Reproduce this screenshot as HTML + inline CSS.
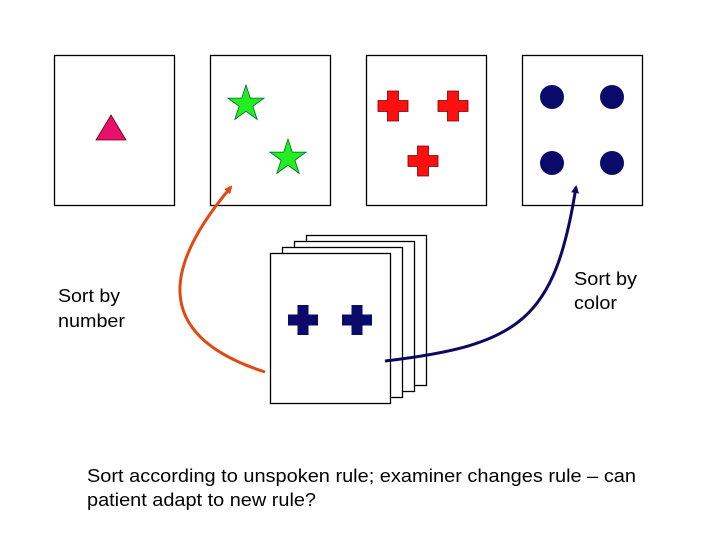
<!DOCTYPE html>
<html><head><style>body{margin:0;background:#fff;}svg{display:block}</style></head><body>
<svg width="720" height="540" xmlns="http://www.w3.org/2000/svg" font-family="Liberation Sans, sans-serif">
<defs>
<marker id="ao" markerWidth="8" markerHeight="8" refX="6" refY="4" orient="auto" markerUnits="userSpaceOnUse"><path d="M0,0 L8,4 L0,8 z" fill="#e04a10"/></marker>
<marker id="ab" markerWidth="8" markerHeight="8" refX="6" refY="4" orient="auto" markerUnits="userSpaceOnUse"><path d="M0,0 L8,4 L0,8 z" fill="#0a0a60"/></marker>
<g id="cross"><path d="M-5.5,-15 H5.5 V-5.5 H15 V5.5 H5.5 V15 H-5.5 V5.5 H-15 V-5.5 H-5.5 Z"/></g>
</defs>
<g fill="#fff" stroke="#000" stroke-width="1.3">
<rect x="54.5" y="55.5" width="120" height="150"/>
<rect x="210.5" y="55.5" width="120" height="150"/>
<rect x="366.5" y="55.5" width="120" height="150"/>
<rect x="522.5" y="55.5" width="120" height="150"/>
<rect x="306.5" y="235.5" width="120" height="150"/>
<rect x="294.5" y="241.5" width="120" height="150"/>
<rect x="282.5" y="247.5" width="120" height="150"/>
<rect x="270.5" y="253.5" width="120" height="150"/>
</g>
<polygon points="111,115 126,140 96,140" fill="#e8106a" stroke="#600" stroke-width="0.8"/>
<g fill="#22ee22" stroke="#063" stroke-width="0.8">
<polygon transform="translate(246,104)" points="0,-19 4.3,-5.9 18.1,-5.9 6.9,2.3 11.2,15.4 0,7.3 -11.2,15.4 -6.9,2.3 -18.1,-5.9 -4.3,-5.9"/>
<polygon transform="translate(288,158)" points="0,-19 4.3,-5.9 18.1,-5.9 6.9,2.3 11.2,15.4 0,7.3 -11.2,15.4 -6.9,2.3 -18.1,-5.9 -4.3,-5.9"/>
</g>
<g fill="#ff1010" stroke="#700" stroke-width="0.8">
<use href="#cross" x="393" y="106"/><use href="#cross" x="453" y="106"/><use href="#cross" x="423" y="161"/>
</g>
<g fill="#0a0a6a">
<circle cx="552" cy="97" r="12"/><circle cx="612" cy="97" r="12"/><circle cx="552" cy="163" r="12"/><circle cx="612" cy="163" r="12"/>
<use href="#cross" x="303" y="320"/><use href="#cross" x="357" y="320"/>
</g>
<path d="M265,372 C150,335 165,265 231,187" fill="none" stroke="#e04a10" stroke-width="3" marker-end="url(#ao)"/>
<path d="M385,361 C520,345 555,320 576,187" fill="none" stroke="#0a0a60" stroke-width="3" marker-end="url(#ab)"/>
<g font-size="18" fill="#000">
<text x="58" y="302" textLength="62" lengthAdjust="spacingAndGlyphs">Sort by</text>
<text x="58" y="327" textLength="67" lengthAdjust="spacingAndGlyphs">number</text>
<text x="574" y="285" textLength="63" lengthAdjust="spacingAndGlyphs">Sort by</text>
<text x="574" y="309" textLength="43" lengthAdjust="spacingAndGlyphs">color</text>
<text x="87" y="482" textLength="549" lengthAdjust="spacingAndGlyphs">Sort according to unspoken rule; examiner changes rule – can</text>
<text x="87" y="506" textLength="229" lengthAdjust="spacingAndGlyphs">patient adapt to new rule?</text>
</g>
</svg>
</body></html>
